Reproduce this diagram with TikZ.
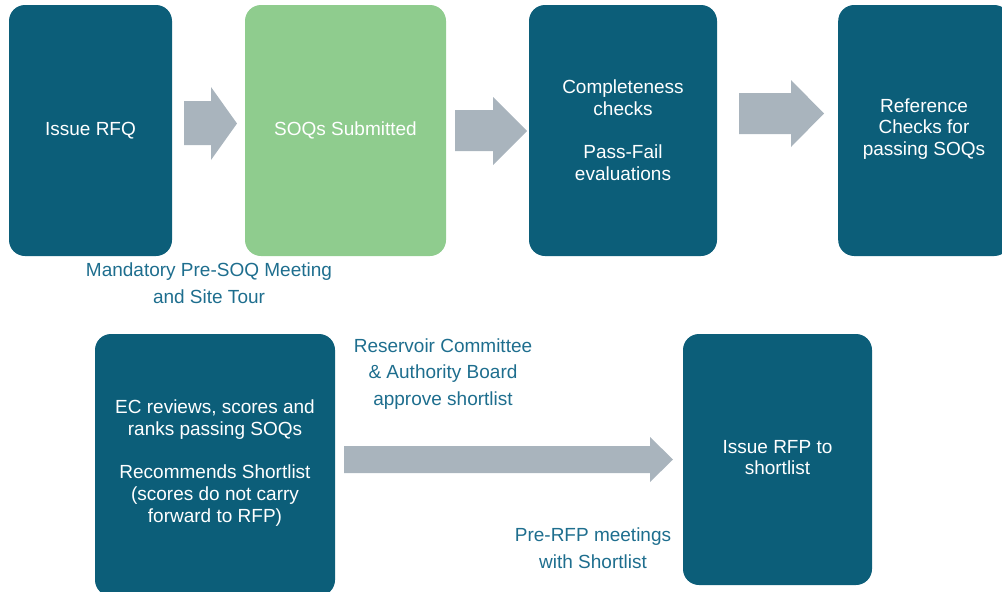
\documentclass[tikz,border=0pt]{standalone}
\usepackage{fontspec}
\setmainfont{Liberation Sans}
\definecolor{boxteal}{HTML}{0C5E79}
\definecolor{boxgreen}{HTML}{8FCC8E}
\definecolor{arrowgray}{HTML}{A9B4BD}
\definecolor{labelteal}{HTML}{1E6E8E}
\newcommand{\diafont}{\fontsize{19}{21.7}\selectfont}
\newcommand{\notefont}{\fontsize{19}{26.5}\selectfont}
\begin{document}
\begin{tikzpicture}[x=1pt,y=-1pt,
  stagebox/.style={rounded corners=16pt, fill=boxteal, text=white, align=center, inner sep=0pt, font=\diafont},
  greenbox/.style={stagebox, fill=boxgreen},
  note/.style={text=labelteal, align=center, inner sep=0pt, font=\notefont},
  blockarrow/.style={fill=arrowgray}]
\useasboundingbox (0,0) rectangle (1002,592);

% top row boxes
\node[stagebox, minimum width=163pt, minimum height=251pt] (b1) at (90.5,130.5) {Issue RFQ};
\node[greenbox, minimum width=201pt, minimum height=251pt] (b2) at (345.5,130.5) {SOQs Submitted};
\node[stagebox, minimum width=188pt, minimum height=251pt] (b3) at (623,130.5) {Completeness\\checks\\[21.7pt]Pass-Fail\\evaluations};
\node[stagebox, minimum width=172pt, minimum height=251pt, anchor=west] (b4) at (838,130.5) {};
\node[text=white, align=center, inner sep=0pt, font=\diafont] (b4t) at (924,129) {Reference\\Checks for\\passing SOQs};

% bottom row boxes
\node[stagebox, minimum width=240pt, minimum height=262pt] (b5) at (215,465) {};
\node[text=white, align=center, inner sep=0pt, font=\diafont] (b5t) at (215,463) {EC reviews, scores and\\ranks passing SOQs\\[21.7pt]Recommends Shortlist\\(scores do not carry\\forward to RFP)};
\node[stagebox, minimum width=189pt, minimum height=251pt] (b6) at (777.5,459.5) {};
\node[text=white, align=center, inner sep=0pt, font=\diafont] (b6t) at (777.5,457.5) {Issue RFP to\\shortlist};

% block arrows
\fill[blockarrow] (184,101) -- (211,101) -- (211,87) -- (237,123.5) -- (211,160) -- (211,145) -- (184,145) -- cycle;
\fill[blockarrow] (455,110) -- (493,110) -- (493,97) -- (527,131) -- (493,165) -- (493,151) -- (455,151) -- cycle;
\fill[blockarrow] (739,93) -- (791,93) -- (791,80) -- (824,113.5) -- (791,147) -- (791,134) -- (739,134) -- cycle;
\fill[blockarrow] (344,446) -- (650,446) -- (650,437) -- (673,459.5) -- (650,482) -- (650,473) -- (344,473) -- cycle;

% notes
\node[note] (n1) at (209,283) {Mandatory Pre-SOQ Meeting\\and Site Tour};
\node[note] (n2) at (443,374) {Reservoir Committee\\\& Authority Board\\approve shortlist};
\node[note] (n3) at (593,548) {Pre-RFP meetings\\with Shortlist};
\end{tikzpicture}
\end{document}
